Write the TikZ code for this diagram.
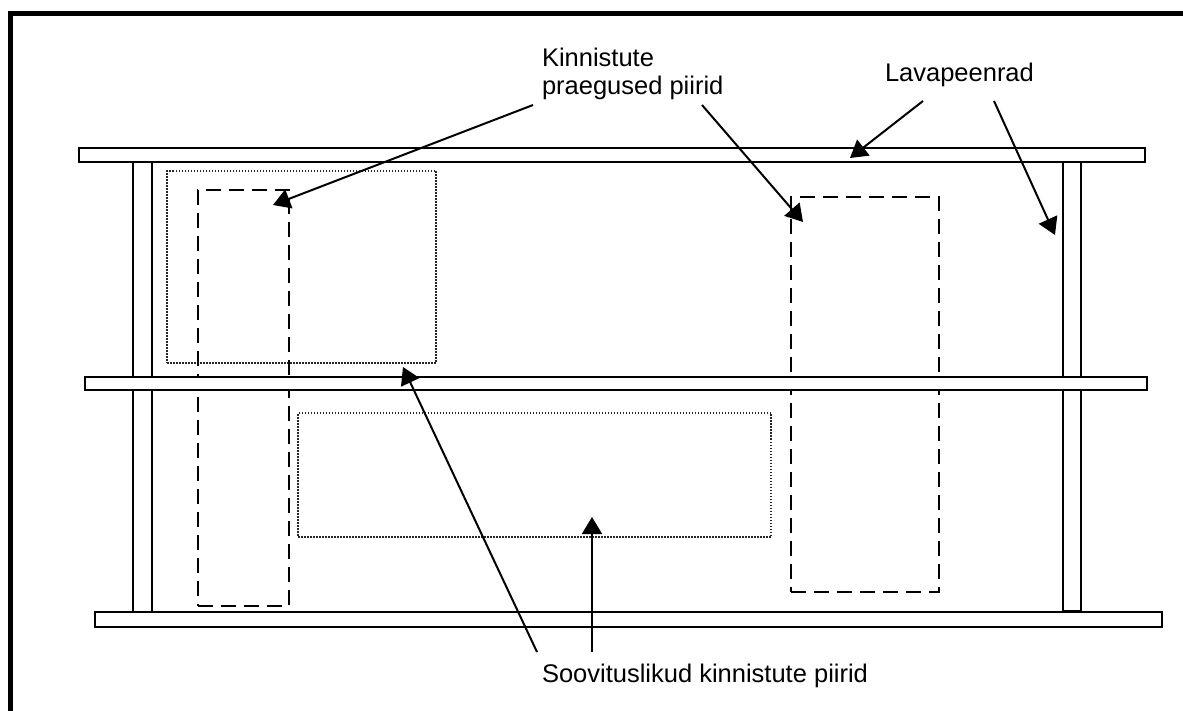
\documentclass[tikz,border=0pt]{standalone}
\usepackage{fontspec}
\setmainfont{Liberation Sans}
\usetikzlibrary{arrows.meta}
\tikzset{
  box/.style={inner sep=0pt, outer sep=0pt, anchor=north west},
  bar/.style={box, draw=black, fill=white, line width=2.2pt},
  dotbox/.style={box, draw=black!85, line width=1.6pt, dash pattern=on 1.5pt off 1.5pt},
  dashbox/.style={box, draw=black, line width=2.9pt, dash pattern=on 15pt off 8pt},
  lbl/.style={inner sep=0pt, outer sep=0pt, font=\fontsize{25.5}{28}\selectfont, align=left},
  conn/.style={line width=2pt, -{Triangle[length=17pt,width=20pt]}},
  frame/.style={line width=5pt, line join=miter}
}
\newcommand{\rbox}[6]{\node[#1, minimum width=#4-#2, minimum height=#5-#3] (#6) at (#2,#3) {};}
\begin{document}
\begin{tikzpicture}[x=1pt,y=-1pt]
\useasboundingbox (0,0) rectangle (1183,711);
% frame (top and left only)
\draw[frame] (10.5,711) -- (10.5,14) -- (1183,14);
% posts
\rbox{bar}{133}{162}{152}{613}{lpost}
\rbox{bar}{1063}{160}{1081}{611}{rpost}
% present boundaries (dotted)
\rbox{dotbox}{167}{171}{436}{363}{ldot}
\rbox{dotbox}{298}{413}{771}{537}{bdot}
% recommended boundaries (dashed)
\rbox{dashbox}{198}{190}{289}{606}{ldash}
\rbox{dashbox}{791}{197}{939}{592}{rdash}
% bars
\rbox{bar}{79}{148}{1145}{162}{topbar}
\rbox{bar}{85}{377}{1147}{390}{midbar}
\rbox{bar}{95}{612}{1162}{627}{botbar}
% labels
\node[lbl, anchor=north west] (t1) at (542,48) {Kinnistute\\praegused piirid};
\node[lbl, anchor=base west] (t2) at (885,82) {Lavapeenrad};
\node[lbl, anchor=base west] (t3) at (542,682) {Soovituslikud kinnistute piirid};
% connector start/end points
\coordinate (s1) at (533,105);
\coordinate (s2) at (702,105);
\coordinate (s3) at (923,101);
\coordinate (s4) at (994,101);
\coordinate (s5) at (537,652);
\coordinate (s6) at (592,652);
\coordinate (e1) at (273,205);
\coordinate (e2) at (803,222);
\coordinate (e3) at (850,158);
\coordinate (e4) at (1055,235);
\coordinate (e5) at (403,367);
\coordinate (e6) at (592,517);
\draw[conn] (s1) -- (e1);
\draw[conn] (s2) -- (e2);
\draw[conn] (s3) -- (e3);
\draw[conn] (s4) -- (e4);
\draw[conn] (s5) -- (e5);
\draw[conn] (s6) -- (e6);
\end{tikzpicture}
\end{document}
